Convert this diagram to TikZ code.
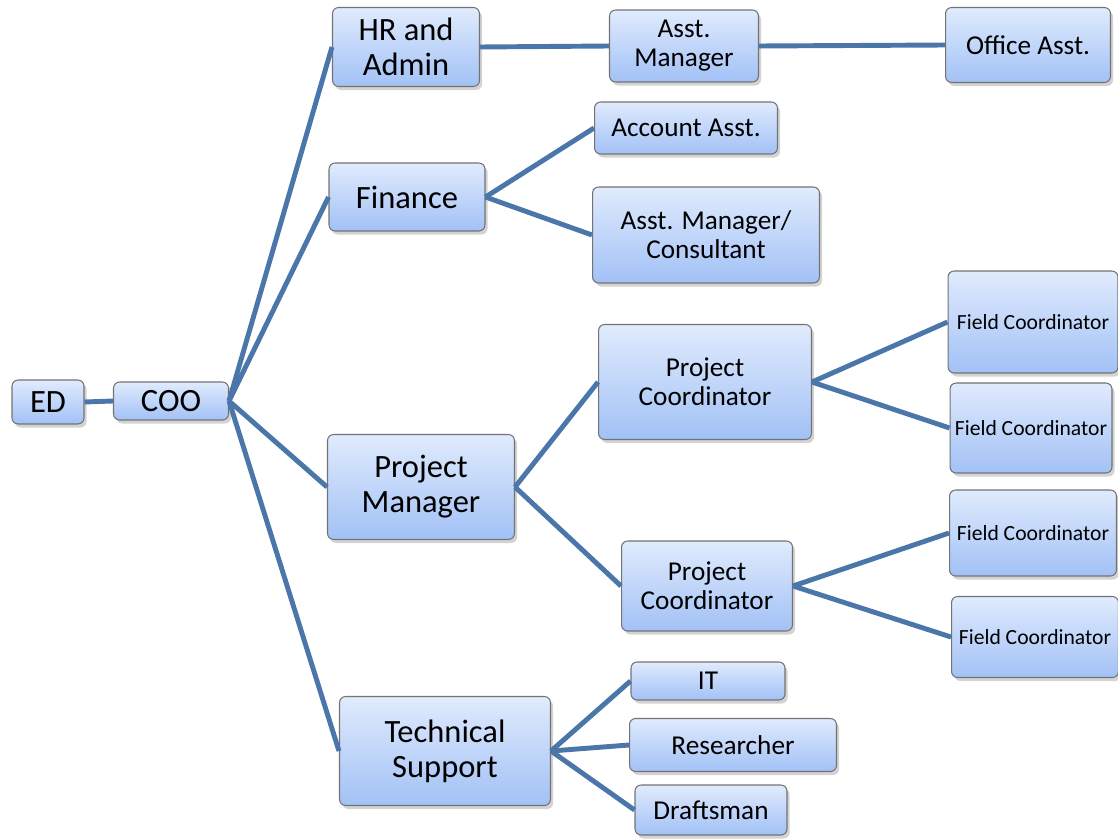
\documentclass[tikz,border=0pt]{standalone}
\usepackage{fontspec}
\setmainfont{Carlito}
\usetikzlibrary{shadows}

\definecolor{boxtop}{HTML}{E0EBFD}
\definecolor{boxbot}{HTML}{A2C1F6}
\definecolor{linkblue}{HTML}{4A76A9}

\tikzset{
    box/.style={draw=gray!90!black, line width=0.6pt, rounded corners=3.5pt,
        top color=boxtop, bottom color=boxbot, align=center, inner sep=0pt,
        drop shadow={shadow xshift=1.5pt, shadow yshift=-2pt, opacity=0.35}},
    big/.style={font=\fontsize{18.5}{20}\selectfont},
    mid/.style={font=\fontsize{15.5}{16.5}\selectfont},
    small/.style={font=\fontsize{12.3}{14}\selectfont},
    link/.style={draw=linkblue, line width=2.8pt}
}

\begin{document}
\begin{tikzpicture}[x=0.02cm, y=-0.02cm]
        \useasboundingbox (0,0) rectangle (1118,838);
        % Top of the chart
        \node[box, big, minimum width=1.44cm, minimum height=0.88cm] (ed) at (48,402) {ED};
        \node[box, big, minimum width=2.3cm, minimum height=0.76cm] (coo) at (171,401) {COO};
        % Departments
        \node[box, big, minimum width=2.94cm, minimum height=1.58cm] (hr) at (406,47) {HR and\\Admin};
        \node[box, big, minimum width=3.12cm, minimum height=1.36cm] (fin) at (407,197) {Finance};
        \node[box, big, minimum width=3.74cm, minimum height=2.1cm] (pm) at (421,487) {Project\\Manager};
        \node[box, big, minimum width=4.22cm, minimum height=2.18cm] (ts) at (445,751) {Technical\\Support};
        % HR and Admin staff
        \node[box, mid, minimum width=2.98cm, minimum height=1.44cm] (asstmgr) at (684,46) {Asst.\\Manager};
        \node[box, mid, minimum width=3.3cm, minimum height=1.5cm] (office) at (1028,45) {Office Asst.};
        % Finance staff
        \node[box, mid, minimum width=3.66cm, minimum height=1.04cm] (account) at (686,128) {Account Asst.};
        \node[box, mid, minimum width=4.54cm, minimum height=1.92cm] (consult) at (706,235) {Asst. Manager/\\Consultant};
        % Project staff
        \node[box, mid, minimum width=4.26cm, minimum height=2.3cm] (pcA) at (705,382) {Project\\Coordinator};
        \node[box, mid, minimum width=3.42cm, minimum height=1.8cm] (pcB) at (707,586) {Project\\Coordinator};
        \node[box, small, minimum width=3.4cm, minimum height=2.04cm] (fcA) at (1033,322) {Field Coordinator};
        \node[box, small, minimum width=3.24cm, minimum height=1.8cm] (fcB) at (1031,428) {Field Coordinator};
        \node[box, small, minimum width=3.34cm, minimum height=1.72cm] (fcC) at (1033,533) {Field Coordinator};
        \node[box, small, minimum width=3.34cm, minimum height=1.62cm] (fcD) at (1035,637) {Field Coordinator};
        % Technical staff
        \node[box, mid, minimum width=3.08cm, minimum height=0.76cm] (it) at (708,681) {IT};
        \node[box, mid, minimum width=4.14cm, minimum height=1.06cm] (research) at (733,745) {Researcher};
        \node[box, mid, minimum width=3.04cm, minimum height=1.0cm] (draft) at (711,810) {Draftsman};
        % Connectors
        \draw[link] (ed.east) -- (coo.west);
        \foreach \dept in {hr, fin, pm, ts}
            \draw[link] (coo.east) -- (\dept.west);
        \draw[link] (hr.east) -- (asstmgr.west);
        \draw[link] (asstmgr.east) -- (office.west);
        \draw[link] (fin.east) -- (account.west);
        \draw[link] (fin.east) -- (consult.west);
        \draw[link] (pm.east) -- (pcA.west);
        \draw[link] (pm.east) -- (pcB.west);
        \draw[link] (pcA.east) -- (fcA.west);
        \draw[link] (pcA.east) -- (fcB.west);
        \draw[link] (pcB.east) -- (fcC.west);
        \draw[link] (pcB.east) -- (fcD.west);
        \foreach \staff in {it, research, draft}
            \draw[link] (ts.east) -- (\staff.west);
    \end{tikzpicture}
\end{document}
